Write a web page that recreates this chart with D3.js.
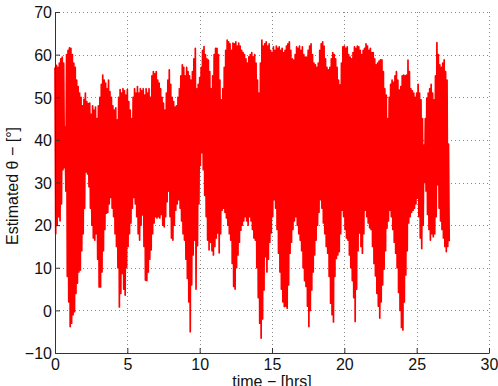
<!DOCTYPE html>
<html>
<head>
<meta charset="utf-8">
<script src="https://cdn.jsdelivr.net/npm/d3@7"></script>
<style>
  body { margin: 0; background: #fff; }
  svg { display: block; font-family: "Liberation Sans", Arial, sans-serif; }
</style>
</head>
<body>
<div id="chart"></div>
<script>
// Estimated theta: peak and trough of the fast
// oscillation in every 0.1 hr slot, from t = 0.0 to 27.2 hrs
const slotHours = 0.1;

const thetaPeaks = [
  57, 57.5, 57, 58, 59, 59.4, 58, 43, 60, 61,
  61.6, 61.5, 60, 58, 57, 54, 52.5, 51, 50, 48,
  49.5, 51, 49, 48.5, 48.6, 46, 48, 47, 47.7, 45,
  48, 50, 53, 55.2, 54, 53.3, 52, 54, 51.3, 50,
  48, 47, 47.5, 44.7, 50, 51.8, 51, 52, 51.5, 50.5,
  51.8, 49, 47, 45, 50, 52, 51, 52.5, 51, 52,
  51.5, 52, 50.5, 52, 51, 52, 50, 55, 56, 55.5,
  56, 54, 53.3, 52, 50, 48.6, 47, 51, 54, 56.4,
  53, 50, 49, 47.7, 48, 50, 52, 55, 57.6, 57,
  55, 57, 56, 55, 54, 56, 59, 61.5, 52, 53,
  54.6, 57, 61, 61.9, 60, 59, 58.7, 56, 52, 55,
  60, 61.5, 61.5, 60, 54, 49.4, 52, 57, 61, 63.4,
  63, 62.5, 61, 62.7, 62.5, 63, 62, 62.7, 62, 61,
  60.5, 60, 59, 58, 59.5, 60, 60.5, 59.5, 60, 58,
  54, 51, 58, 63.4, 62, 62.5, 63, 62, 62.5, 61,
  60.5, 61.8, 61, 62, 61.5, 61.8, 61, 61.5, 60.5, 61,
  62, 62.5, 63, 61, 59, 58.7, 60, 61.8, 61.5, 62,
  61, 61.8, 60, 59.4, 59.4, 61, 62, 62.5, 60, 58,
  57.6, 57, 58, 61, 62.5, 63, 62, 59, 57, 56.4,
  57, 59, 60.5, 60, 59, 57, 54, 52.9, 58, 61.8,
  62, 61.5, 61.8, 60, 59.4, 59, 60.5, 61.8, 61.5, 62,
  61.8, 61, 60, 61, 61.5, 62.5, 62, 61, 61.5, 60.5,
  60.5, 59, 57.6, 58, 58.5, 58.8, 58.8, 56, 52, 50.5,
  45, 50, 53, 54, 53.5, 55, 56, 54, 51.7, 52.5,
  55, 55.2, 55, 55.2, 58.7, 56, 52, 51.5, 51, 50,
  51, 53, 51, 49.4, 45, 38.8, 45, 49.8, 51, 52,
  53, 51, 49.4, 55, 62.8, 60, 57.6, 57, 58, 58.8,
  56, 54, 39
];

const thetaTroughs = [
  18, 20, 22, 21, 25, 33, 33.5, 28, 8, 2,
  -3.8, -3, -1, -0.3, 4, 6.4, 9, 9.5, 14, 18,
  24, 32.5, 32, 29, 24, 20, 17, 16.5, 18, 12,
  5.5, 5.5, 9, 14, 19, 22.8, 23, 25, 26.5, 24,
  22, 18, 15, 10, 0.8, 4, 8.7, 5, 3.6, 10,
  15, 18, 20.5, 24, 26.5, 25, 22, 18, 16.5, 20,
  22.4, 15, 7.1, 7, 9, 12, 14.2, 18, 20.5, 22,
  21.7, 22, 21.7, 22.5, 20, 19.6, 22, 25.5, 28, 22,
  17, 16.5, 20, 23.5, 25, 26, 24, 21, 18, 16.5,
  12, 7.5, 2, -5, 6, 13, 16.5, 5, 15.2, 25,
  34, 37, 33, 27, 22, 16.5, 14.2, 16, 14, 13,
  15, 17, 18.2, 13.5, 18, 23.5, 24, 23, 21.7, 20,
  18, 16.5, 11, 5.6, 5, 10, 13, 16, 18.8, 20,
  21, 22, 21, 20, 22, 21, 19, 17, 16.5, 10,
  3, -3, -6.5, -2, 4.8, 12.6, 9, 12, 16, 18.2,
  22, 26, 24, 19, 13.4, 9, 5, 2, 0.9, 1,
  0.5, 6, 13.4, 16, 19, 21, 22, 20, 18, 16.5,
  14, 10, 7, 5.6, 1, -3.8, 0, 4.8, 9, 13,
  16.5, 20, 23, 26, 24, 20.5, 18, 15, 13.4, 8,
  1.7, -1, -2.7, 8, 12.2, 13, 13.8, 18, 23.5, 22,
  19, 17, 16.5, 13, 10, 7, 3, -2.6, 5, 14,
  18.2, 15, 13.4, 18, 23.5, 22, 20.5, 19.4, 19, 15,
  11, 8.1, 4, 1, -1.8, 2, 6, 9.7, 14, 19.3,
  21, 23.5, 22, 19, 16, 13.4, 10, 4.2, 0, -4,
  -4.6, 2, 8.3, 14, 20.5, 22, 23, 23.5, 24, 25,
  26.3, 22, 17, 14.5, 20, 30, 28, 22.5, 19, 16.5,
  18, 17.3, 18, 22, 29.5, 24, 21, 19, 17, 15,
  13.8, 15, 16.2
];

const xTicks = [0, 5, 10, 15, 20, 25, 30];
const yTicks = [-10, 0, 10, 20, 30, 40, 50, 60, 70];

const width = 498;
const height = 386;
const margin = { top: 12, right: 9, bottom: 33, left: 55 };

const svg = d3.select('#chart')
  .append('svg')
  .attr('width', width)
  .attr('height', height);

svg.append('rect')
  .attr('width', width)
  .attr('height', height)
  .attr('fill', '#fff');

const x = d3.scaleLinear()
  .domain([0, 30])
  .range([margin.left, width - margin.right]);

const y = d3.scaleLinear()
  .domain([-10, 70])
  .range([height - margin.bottom, margin.top]);

// Dotted grid, under the data
const grid = svg.append('g')
  .attr('stroke', '#888')
  .attr('stroke-width', 1)
  .attr('stroke-dasharray', '1,3');

grid.selectAll('.vgrid')
  .data(xTicks.slice(1))
  .enter()
  .append('line')
  .attr('x1', d => Math.round(x(d)) + 0.5)
  .attr('x2', d => Math.round(x(d)) + 0.5)
  .attr('y1', y(70))
  .attr('y2', y(-10));

grid.selectAll('.hgrid')
  .data(yTicks.slice(1))
  .enter()
  .append('line')
  .attr('x1', x(0))
  .attr('x2', x(30))
  .attr('y1', d => Math.round(y(d)) + 0.5)
  .attr('y2', d => Math.round(y(d)) + 0.5);

// Signal: alternate between the peak and the trough of each slot
const points = [];
thetaPeaks.forEach((p, i) => {
  points.push([i * slotHours, p]);
  points.push([i * slotHours + slotHours / 2, thetaTroughs[i]]);
});

const line = d3.line()
  .x(d => x(d[0]))
  .y(d => y(d[1]));

svg.append('path')
  .datum(points)
  .attr('d', line)
  .attr('fill', 'none')
  .attr('stroke', '#ff0000')
  .attr('stroke-width', 1.7)
  .attr('stroke-linejoin', 'round');

// Axes, MATLAB style: ticks pointing inward, no box
const xAxis = svg.append('g')
  .attr('transform', `translate(0,${y(-10)})`)
  .call(d3.axisBottom(x).tickValues(xTicks).tickSizeInner(-5).tickSizeOuter(0));

const yAxis = svg.append('g')
  .attr('transform', `translate(${x(0)},0)`)
  .call(d3.axisLeft(y).tickValues(yTicks).tickSizeInner(-5).tickSizeOuter(0));

[xAxis, yAxis].forEach(a => {
  a.select('.domain').attr('stroke', '#333');
  a.selectAll('.tick line').attr('stroke', '#333');
  a.selectAll('text')
    .style('font-family', '"Liberation Sans", Arial, sans-serif')
    .style('font-size', '16px')
    .attr('fill', '#111');
});

yAxis.selectAll('.tick text').attr('x', -3).attr('dy', '0.36em');
xAxis.selectAll('.tick text').attr('y', 17).attr('dy', 0);

// Axis labels
svg.append('text')
  .attr('x', x(15))
  .attr('y', 387)
  .attr('text-anchor', 'middle')
  .style('font-size', '16px')
  .attr('fill', '#111')
  .text('time − [hrs]');

svg.append('text')
  .attr('transform', `translate(18,186) rotate(-90)`)
  .attr('text-anchor', 'middle')
  .style('font-size', '16px')
  .attr('fill', '#111')
  .text('Estimated θ − [°]');
</script>
</body>
</html>
